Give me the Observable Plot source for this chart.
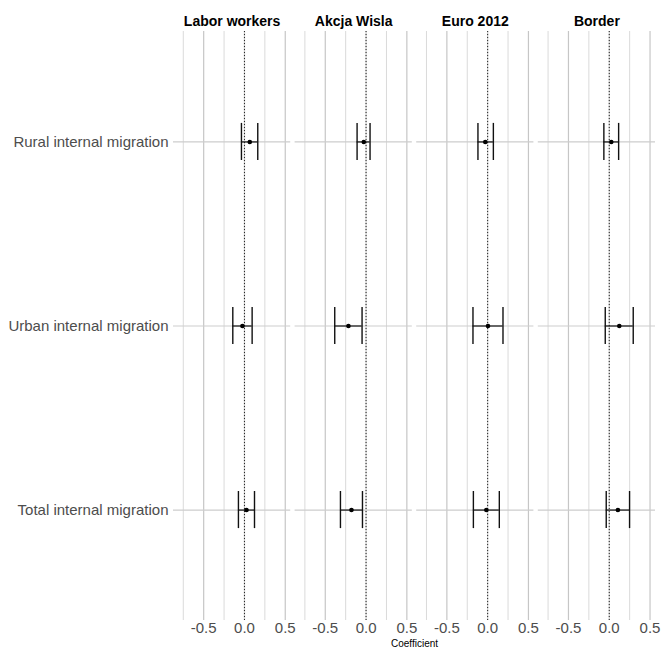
<!DOCTYPE html>
<html>
<head>
<meta charset="utf-8">
<script src="https://cdn.jsdelivr.net/npm/d3@7"></script>
<script src="https://cdn.jsdelivr.net/npm/@observablehq/plot@0.6"></script>
<style>
  html, body { margin: 0; padding: 0; background: #fff; }
</style>
</head>
<body>
<div id="chart"></div>
<script>
// Event-study coefficients with confidence intervals, one panel per shock
const shocks = ["Labor workers", "Akcja Wisla", "Euro 2012", "Border"];
const outcomes = ["Rural internal migration", "Urban internal migration", "Total internal migration"];

// Values listed shock by shock, outcomes in the order above
const estimate = [
  0.065, -0.025, 0.025,
  -0.028, -0.216, -0.179,
  -0.029, 0.004, -0.016,
  0.025, 0.123, 0.106
];
const lower = [
  -0.037, -0.143, -0.074,
  -0.110, -0.384, -0.314,
  -0.119, -0.180, -0.175,
  -0.066, -0.049, -0.037
];
const upper = [
  0.163, 0.094, 0.123,
  0.049, -0.049, -0.044,
  0.070, 0.188, 0.143,
  0.115, 0.294, 0.249
];

const majorTicks = [-0.5, 0, 0.5];
const minorTicks = [-0.75, -0.25, 0.25];

const rows = [];
shocks.forEach((s, i) => outcomes.forEach((o, j) => {
  const k = i * outcomes.length + j;
  rows.push({shock: s, outcome: o, est: estimate[k], lo: lower[k], hi: upper[k]});
}));

const textColor = "#4d4d4d";

const chart = Plot.plot({
  width: 662,
  height: 648,
  marginLeft: 173,
  marginRight: 7,
  marginTop: 31,
  marginBottom: 28,
  style: {fontFamily: "'Liberation Sans', Arial, Helvetica, sans-serif", background: "#fff"},
  x: {domain: [-0.87, 0.567]},
  y: {type: "band", domain: outcomes, paddingInner: 0.7986, paddingOuter: 0.4993, round: false},
  fx: {domain: shocks, padding: 0.036, round: false},
  marks: [
    Plot.gridX({ticks: minorTicks, stroke: "#dadada", strokeOpacity: 1, strokeWidth: 1}),
    Plot.gridX({ticks: majorTicks, stroke: "#c6c6c6", strokeOpacity: 1, strokeWidth: 1.2}),
    Plot.gridY({stroke: "#cdcdcd", strokeOpacity: 1, strokeWidth: 1.2}),
    Plot.ruleX([0], {stroke: "#222", strokeWidth: 1, strokeDasharray: "1,2"}),
    Plot.ruleY(rows, {fx: "shock", y: "outcome", x1: "lo", x2: "hi", stroke: "#111", strokeWidth: 1.2}),
    Plot.tickX(rows, {fx: "shock", y: "outcome", x: "lo", stroke: "#111", strokeWidth: 1.4}),
    Plot.tickX(rows, {fx: "shock", y: "outcome", x: "hi", stroke: "#111", strokeWidth: 1.4}),
    Plot.dot(rows, {fx: "shock", y: "outcome", x: "est", r: 2.3, fill: "#000", stroke: "none"}),
    Plot.axisY({tickSize: 0, tickPadding: 5, fontSize: 15, fill: textColor, label: null}),
    Plot.axisX({ticks: majorTicks, tickFormat: d => d.toFixed(1), tickSize: 0, tickPadding: 2,
                fontSize: 15, fill: textColor, label: null}),
    Plot.axisFx({anchor: "top", tickSize: 0, tickPadding: 6, fontSize: 14, fontWeight: "bold",
                 fill: "#000", label: null}),
    Plot.text(["Coefficient"], {frameAnchor: "bottom", facet: "super", dy: 26.5, fontSize: 10,
                                fill: "#000", text: d => d})
  ]
});

document.getElementById("chart").appendChild(chart);
</script>
</body>
</html>
